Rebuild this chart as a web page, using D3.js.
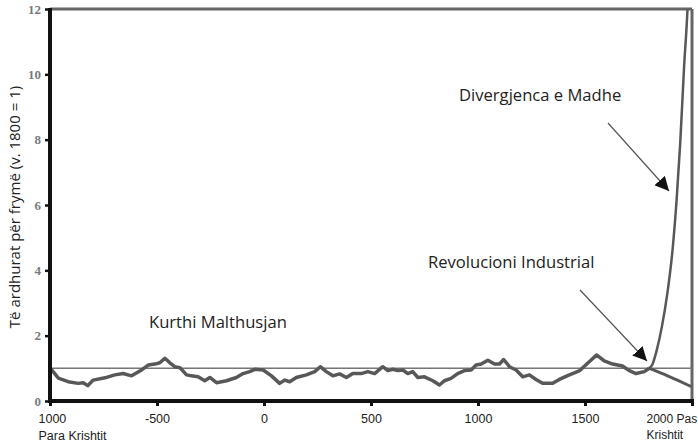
<!DOCTYPE html>
<html>
<head>
<meta charset="utf-8">
<script src="https://cdn.jsdelivr.net/npm/d3@7"></script>
<style>
  body { margin: 0; background: #fff; }
  svg { display: block; }
</style>
</head>
<body>
<div id="chart"></div>
<script>
// Malthusian path, year vs income per head (1800 = 1)
const years = [-1000, -992, -961, -915, -868, -845, -824, -798, -743, -697, -658, -619, -572, -541, -510, -487, -463, -440, -417, -393,
  -362, -339, -308, -277, -253, -222, -175, -129, -98, -67, -43, -4, 35, 73, 97, 120, 151, 198, 237, 263, 291, 322, 353, 385, 415,
  454, 485, 517, 555, 579, 602, 625, 649, 672, 695, 719, 750, 789, 820, 843, 874, 905, 937, 968, 991, 1015, 1046, 1077, 1100, 1120,
  1147, 1178, 1209, 1240, 1271, 1302, 1349, 1380, 1427, 1473, 1520, 1554, 1590, 1629, 1675, 1707, 1738, 1777, 1800];
const incomes = [1.0, 0.95, 0.70, 0.59, 0.54, 0.56, 0.47, 0.64, 0.71, 0.80, 0.84, 0.77, 0.95, 1.10, 1.13, 1.17, 1.31, 1.17, 1.05, 1.02,
  0.80, 0.77, 0.74, 0.62, 0.72, 0.56, 0.62, 0.72, 0.84, 0.90, 0.97, 0.95, 0.77, 0.54, 0.64, 0.59, 0.72, 0.80, 0.90, 1.05, 0.90, 0.77, 0.83, 0.72, 0.84,
  0.84, 0.90, 0.84, 1.05, 0.93, 0.97, 0.93, 0.95, 0.84, 0.90, 0.72, 0.74, 0.62, 0.49, 0.62, 0.69, 0.84, 0.93, 0.95, 1.10, 1.13, 1.25, 1.13, 1.13, 1.27,
  1.05, 0.95, 0.74, 0.80, 0.66, 0.54, 0.54, 0.66, 0.80, 0.92, 1.20, 1.41, 1.23, 1.13, 1.07, 0.93, 0.84, 0.90, 1.0];

// Great divergence, rich branch
const riseYears = [1800, 1815, 1835, 1860, 1885, 1909, 1928, 1945, 1963, 1979, 1985];
const riseValues = [1.0, 1.12, 1.55, 2.3, 3.3, 4.62, 6.15, 7.9, 10.23, 12.0, 13.0];

// poor branch
const fallYears = [1800, 1862, 1924, 1997];
const fallValues = [1.0, 0.84, 0.66, 0.44];

const yTicks = [0, 2, 4, 6, 8, 10, 12];
const xTicks = [-1000, -500, 0, 500, 1000, 1500, 2000];
const xTickLabels = ["1000", "-500", "0", "500", "1000", "1500", "2000 Pas"];

const width = 698, height = 444;
const margin = {top: 9, right: 6, bottom: 43, left: 50};

const x = d3.scaleLinear().domain([-1000, 2000]).range([margin.left, width - margin.right]);
const y = d3.scaleLinear().domain([0, 12]).range([height - margin.bottom, margin.top]);

const svg = d3.select("#chart").append("svg")
  .attr("width", width)
  .attr("height", height)
  .style("font-family", "'Open Sans', sans-serif");

svg.append("defs").append("clipPath").attr("id", "plot")
  .append("rect")
  .attr("x", margin.left).attr("y", margin.top)
  .attr("width", width - margin.left - margin.right)
  .attr("height", height - margin.top - margin.bottom);

let marker = svg.select("defs").append("marker")
  .attr("id", "arrow")
  .attr("viewBox", "0 0 10 10")
  .attr("refX", 10).attr("refY", 5)
  .attr("markerWidth", 14).attr("markerHeight", 14)
  .attr("markerUnits", "userSpaceOnUse")
  .attr("orient", "auto");
marker.append("path").attr("d", "M0,0 L10,5 L0,10 z").attr("fill", "#111");

// top and right frame
svg.append("line")
  .attr("x1", margin.left).attr("x2", width - margin.right)
  .attr("y1", y(12)).attr("y2", y(12))
  .attr("stroke", "#666").attr("stroke-width", 3);
svg.append("line")
  .attr("x1", x(2000)).attr("x2", x(2000))
  .attr("y1", y(12)).attr("y2", y(0))
  .attr("stroke", "#666").attr("stroke-width", 3);

// reference line at 1
svg.append("line")
  .attr("x1", x(-1000)).attr("x2", x(2000))
  .attr("y1", y(1)).attr("y2", y(1))
  .attr("stroke", "#777").attr("stroke-width", 1.5);

let line = d3.line()
  .x(function(d){ return x(d[0]); })
  .y(function(d){ return y(d[1]); });

const g = svg.append("g").attr("clip-path", "url(#plot)");

g.append("path")
  .datum(years.map(function(d, i){ return [d, incomes[i]]; }))
  .attr("d", line)
  .attr("fill", "none").attr("stroke", "#585858")
  .attr("stroke-width", 3.5).attr("stroke-linejoin", "round");

g.append("path")
  .datum(fallYears.map(function(d, i){ return [d, fallValues[i]]; }))
  .attr("d", line.curve(d3.curveMonotoneX))
  .attr("fill", "none").attr("stroke", "#585858")
  .attr("stroke-width", 3);

g.append("path")
  .datum(riseYears.map(function(d, i){ return [d, riseValues[i]]; }))
  .attr("d", line.curve(d3.curveMonotoneX))
  .attr("fill", "none").attr("stroke", "#585858")
  .attr("stroke-width", 2.5);

// axes
const yAxis = svg.append("g")
  .attr("transform", "translate(" + margin.left + ",0)")
  .call(d3.axisLeft(y).tickValues(yTicks).tickSize(5).tickPadding(4));
yAxis.select(".domain").attr("stroke", "#111").attr("stroke-width", 4)
  .attr("d", "M0," + (y(12) - 1) + "V" + (y(0) + 2));
yAxis.selectAll(".tick line").attr("stroke", "#111").attr("stroke-width", 2.5);
yAxis.selectAll(".tick text")
  .attr("fill", "#7a7a7a")
  .style("font-family", "'Liberation Serif', serif")
  .style("font-weight", "bold")
  .style("font-size", "13px");

const xAxis = svg.append("g")
  .attr("transform", "translate(0," + y(0) + ")")
  .call(d3.axisBottom(x).tickValues(xTicks).tickSize(5).tickPadding(8)
    .tickFormat(function(d, i){ return xTickLabels[i]; }));
xAxis.select(".domain").attr("stroke", "#111").attr("stroke-width", 4)
  .attr("d", "M" + (margin.left - 2) + ",0H" + (x(2000) + 2));
xAxis.selectAll(".tick line").attr("stroke", "#111").attr("stroke-width", 3);
xAxis.selectAll(".tick text")
  .attr("fill", "#222")
  .style("font-size", "12.5px");

// first and last labels carry a second line
xAxis.selectAll(".tick text").each(function(d, i){
  let t = d3.select(this);
  if(i === 0 || i === xTicks.length - 1){
    let shift = i === 0 ? -12 : -46;
    t.attr("text-anchor", "start").attr("x", shift);
    if(i !== 0) t.style("font-size", "12px");
    t.append("tspan").attr("x", shift).attr("dy", "1.35em")
      .text(i === 0 ? "Para Krishtit" : "Krishtit");
  }
});

svg.append("text")
  .attr("transform", "translate(20," + 207 + ") rotate(-90)")
  .attr("text-anchor", "middle")
  .attr("fill", "#222")
  .style("font-size", "15px")
  .text("Të ardhurat për frymë (v. 1800 = 1)");

// annotations
const notes = [
  {text: "Kurthi Malthusjan", x: 149, y: 328},
  {text: "Divergjenca e Madhe", x: 459, y: 101},
  {text: "Revolucioni Industrial", x: 428, y: 268}
];
svg.selectAll(".note").data(notes).enter().append("text")
  .attr("class", "note")
  .attr("x", function(d){ return d.x; })
  .attr("y", function(d){ return d.y; })
  .attr("fill", "#222")
  .style("font-size", "16.6px")
  .text(function(d){ return d.text; });

const arrows = [
  {x1: 608, y1: 123, x2: 669, y2: 191},
  {x1: 580, y1: 290, x2: 647, y2: 361}
];
svg.selectAll(".arrow").data(arrows).enter().append("line")
  .attr("class", "arrow")
  .attr("x1", function(d){ return d.x1; })
  .attr("y1", function(d){ return d.y1; })
  .attr("x2", function(d){ return d.x2; })
  .attr("y2", function(d){ return d.y2; })
  .attr("stroke", "#555").attr("stroke-width", 1.2)
  .attr("marker-end", "url(#arrow)");
</script>
</body>
</html>
